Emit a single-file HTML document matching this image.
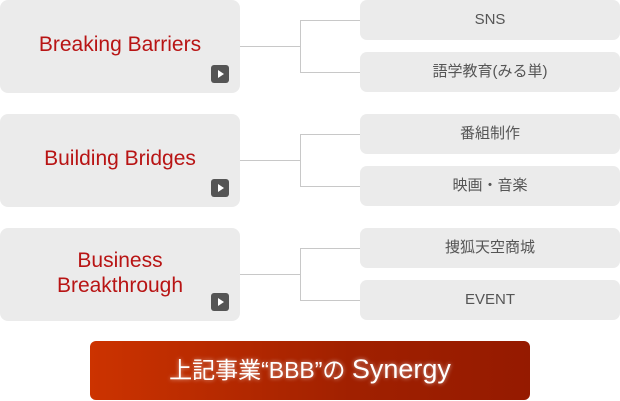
<!DOCTYPE html><html><head><meta charset="utf-8"><style>
body{margin:0;width:620px;height:401px;background:#fff;position:relative;overflow:hidden;font-family:"Liberation Sans","Noto Sans CJK JP",sans-serif}
.l{position:absolute;left:0;width:240px;height:89px;padding-bottom:4px;background:#ebebeb;border-radius:8px;color:#b81414;font-size:21px;text-align:center;display:flex;align-items:center;justify-content:center;line-height:25px}
.p{position:absolute;left:211px;width:18px;height:18px;background:#555;border-radius:3px}
.p:after{content:"";position:absolute;left:7px;top:5px;border-left:6px solid #fff;border-top:4px solid transparent;border-bottom:4px solid transparent}
.r{position:absolute;left:360px;width:260px;height:40px;background:#ebebeb;border-radius:7px;color:#555;font-size:15px;text-align:center;line-height:40px}
.h{position:absolute;height:1px;background:#c8c8c8}
.v{position:absolute;width:1px;background:#c8c8c8}
.b{position:absolute;left:90px;top:341px;width:440px;height:59px;border-radius:6px;background:linear-gradient(90deg,#cc3300,#a02000 60%,#951a00);color:#fff;font-size:23px;text-align:center;line-height:57px;text-shadow:0 0 4px rgba(255,255,255,.6)}
</style></head><body>
<div class="l" style="top:0">Breaking Barriers</div><div class="p" style="top:65px"></div>
<div class="l" style="top:114px">Building Bridges</div><div class="p" style="top:179px"></div>
<div class="l" style="top:228px">Business<br>Breakthrough</div><div class="p" style="top:293px"></div>
<div class="r" style="top:0">SNS</div><div class="r" style="top:52px">語学教育(みる単)</div>
<div class="r" style="top:114px">番組制作</div><div class="r" style="top:166px">映画・音楽</div>
<div class="r" style="top:228px">捜狐天空商城</div><div class="r" style="top:280px">EVENT</div>
<div class="h" style="left:240px;top:46px;width:60px"></div><div class="v" style="left:300px;top:20px;height:52px"></div><div class="h" style="left:300px;top:20px;width:60px"></div><div class="h" style="left:300px;top:72px;width:60px"></div>
<div class="h" style="left:240px;top:160px;width:60px"></div><div class="v" style="left:300px;top:134px;height:52px"></div><div class="h" style="left:300px;top:134px;width:60px"></div><div class="h" style="left:300px;top:186px;width:60px"></div>
<div class="h" style="left:240px;top:274px;width:60px"></div><div class="v" style="left:300px;top:248px;height:52px"></div><div class="h" style="left:300px;top:248px;width:60px"></div><div class="h" style="left:300px;top:300px;width:60px"></div>
<div class="b">上記事業“BBB”の <span style="font-size:27px">Synergy</span></div>
</body></html>
